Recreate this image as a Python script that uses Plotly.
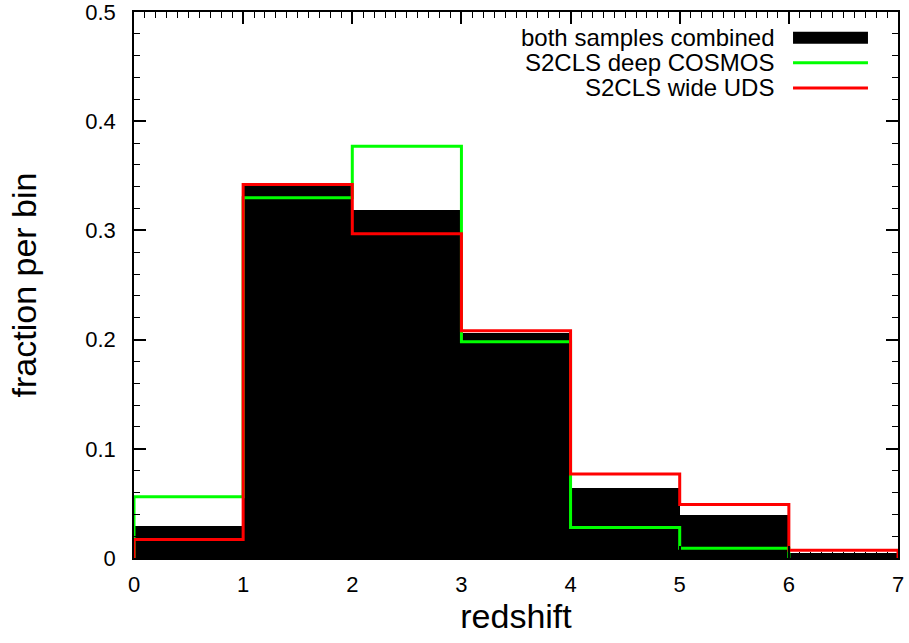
import plotly.graph_objects as go

# Redshift bins (lower edges, width 1)
bin_edges = [0, 1, 2, 3, 4, 5, 6, 7]
bin_centers = [0.5, 1.5, 2.5, 3.5, 4.5, 5.5, 6.5]

# Fraction of sources per bin
combined = [0.029, 0.341, 0.319, 0.206, 0.064, 0.039, 0.005]
deep_cosmos = [0.056, 0.330, 0.377, 0.198, 0.028, 0.009, 0.0]
wide_uds = [0.017, 0.342, 0.297, 0.208, 0.077, 0.049, 0.007]

series_labels = ["both samples combined", "S2CLS deep COSMOS", "S2CLS wide UDS"]

FONT = "Liberation Sans, Arial, sans-serif"


def step_xy(values):
    """Outline of a histogram as an 'hv' step path, closed down to zero at both ends.
    Trailing empty bins are left off so the outline stops where the data stops."""
    n = len(values)
    while n > 1 and values[n - 1] == 0:
        n -= 1
    vals = values[:n]
    xs = [bin_edges[0]] + bin_edges[:n] + [bin_edges[n], bin_edges[n]]
    ys = [0] + vals + [vals[-1], 0]
    return xs, ys


fig = go.Figure()

fig.add_trace(go.Bar(
    x=bin_centers, y=combined, width=1,
    marker=dict(color="black", line=dict(width=0)),
    name=series_labels[0], showlegend=False,
))

for vals, color, label in [(deep_cosmos, "#00ff00", series_labels[1]),
                           (wide_uds, "#ff0000", series_labels[2])]:
    xs, ys = step_xy(vals)
    fig.add_trace(go.Scatter(
        x=xs, y=ys, mode="lines", line=dict(color=color, width=3, shape="hv"),
        name=label, showlegend=False, cliponaxis=False,
    ))

# Key in the upper right corner: labels right-aligned, samples to their right
rows_y = [0.953, 0.907, 0.861]
text_x = 0.839
key_x0, key_x1 = 0.8626, 0.9607
for label, ry in zip(series_labels, rows_y):
    fig.add_annotation(
        x=text_x, y=ry, xref="paper", yref="paper", text=label,
        showarrow=False, xanchor="right", yanchor="middle", borderpad=0,
        font=dict(family=FONT, size=24, color="black"),
    )
fig.add_shape(type="rect", xref="paper", yref="paper",
              x0=key_x0, x1=key_x1, y0=rows_y[0] - 0.011, y1=rows_y[0] + 0.011,
              fillcolor="black", line=dict(width=0))
fig.add_shape(type="line", xref="paper", yref="paper",
              x0=key_x0, x1=key_x1, y0=rows_y[1], y1=rows_y[1],
              line=dict(color="#00ff00", width=3))
fig.add_shape(type="line", xref="paper", yref="paper",
              x0=key_x0, x1=key_x1, y0=rows_y[2], y1=rows_y[2],
              line=dict(color="#ff0000", width=3))

axis_common = dict(
    showline=True, linecolor="black", linewidth=1.5, mirror="allticks",
    ticks="inside", ticklen=12, tickwidth=1.5, tickcolor="black",
    showgrid=False, zeroline=False, ticklabeloverflow="allow",
    tickfont=dict(family=FONT, size=22, color="black"),
)

fig.update_xaxes(
    range=[0, 7], dtick=1, tick0=0,
    minor=dict(dtick=0.1, ticks="inside", ticklen=6, tickwidth=1, tickcolor="black"),
    title=dict(text="redshift", font=dict(family=FONT, size=34, color="black"), standoff=6),
    ticklabelstandoff=6,
    **axis_common,
)
fig.update_yaxes(
    range=[0, 0.5], dtick=0.1, tick0=0,
    minor=dict(dtick=0.02, ticks="inside", ticklen=6, tickwidth=1, tickcolor="black"),
    title=dict(text="fraction per bin", font=dict(family=FONT, size=34, color="black"), standoff=38),
    ticklabelstandoff=12,
    **axis_common,
)

fig.update_layout(
    width=909, height=643,
    margin=dict(l=134, r=11, t=12, b=85, autoexpand=False),
    plot_bgcolor="white", paper_bgcolor="white",
    bargap=0, barmode="overlay",
    showlegend=False,
)

fig.write_html("out.html")
